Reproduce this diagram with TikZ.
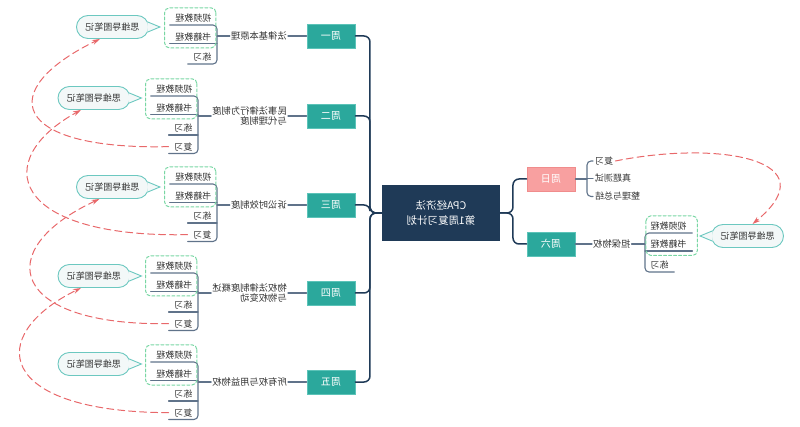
\documentclass[tikz,border=0pt]{standalone}
\usepackage{fontspec}
\setmainfont{Noto Sans CJK SC}
\usepackage{tikz}
\usetikzlibrary{calc}
\usetikzlibrary{arrows.meta}

\definecolor{navy}{HTML}{1F3A57}
\definecolor{teal1}{HTML}{2BA89C}
\definecolor{teal2}{HTML}{5CC3B8}
\definecolor{pink1}{HTML}{F8A0A0}
\definecolor{pink2}{HTML}{F08C8C}
\definecolor{slate}{HTML}{60738A}
\definecolor{ink}{HTML}{333333}
\definecolor{mint}{HTML}{78D6A3}
\definecolor{memoline}{HTML}{6CC8C0}
\definecolor{memofill}{HTML}{F3F8F8}
\definecolor{redash}{HTML}{E8686A}

\tikzset{
  hub/.style={fill=navy, text=white, minimum width=118, minimum height=56,
    align=center, font=\fontsize{10.5}{15}\selectfont},
  weekbox/.style={fill=teal1, draw=teal2, line width=0.8, text=white,
    minimum width=48, minimum height=24, font=\fontsize{10}{12}\selectfont},
  sunbox/.style={weekbox, fill=pink1, draw=pink2},
  topic/.style={text=ink, inner sep=1pt, font=\fontsize{9.3}{10.5}\selectfont},
  leaf/.style={text=ink, inner xsep=5.5pt, inner ysep=2.5pt, font=\fontsize{9}{10}\selectfont},
  sunleaf/.style={text=ink, inner sep=2pt, font=\fontsize{9}{10}\selectfont},
  memo/.style={draw=memoline, fill=memofill, line width=0.9, text=ink,
    rounded corners=11.5, minimum width=72, minimum height=23,
    font=\fontsize{9}{10}\selectfont},
  trunk/.style={draw=navy, line width=1.5, rounded corners=6},
  branch/.style={draw=slate, line width=1.1},
  dashbox/.style={draw=mint, line width=1, dash pattern=on 3pt off 2pt, rounded corners=5},
  revise/.style={draw=redash, line width=1, dash pattern=on 7pt off 4pt,
    -{Stealth[length=8pt,width=5pt]}}
}

\begin{document}
\begin{tikzpicture}[x=1pt, y=-1pt, xscale=-1, line cap=round,
  every node/.append style={transform shape}]
\useasboundingbox (0,0) rectangle (800,427);

\node[hub] (hub) at (359,213) {CPA经济法\\第1周复习计划};

\node[weekbox] (w1) at (469,36) {周一};
\node[weekbox] (w2) at (469,116) {周二};
\node[weekbox] (w3) at (469,205) {周三};
\node[weekbox] (w4) at (469,293) {周四};
\node[weekbox] (w5) at (469,382) {周五};
\node[weekbox] (w6) at (249,244) {周六};
\node[sunbox] (w7) at (249,179) {周日};

\draw[trunk] (hub.east) -- (430,213) |- (w1.west);
\draw[trunk] (hub.east) -- (430,213) |- (w2.west);
\draw[trunk] (hub.east) -- (430,213) |- (w3.west);
\draw[trunk] (hub.east) -- (430,213) |- (w4.west);
\draw[trunk] (hub.east) -- (430,213) |- (w5.west);
\draw[trunk] (hub.west) -- (287,213) |- (w6.east);
\draw[trunk] (hub.west) -- (287,213) |- (w7.east);

% topics
\node[topic, anchor=west] (t1) at (512,36) {法律基本原理};
\node[topic, anchor=west, align=left] (t2) at (512,116) {民事法律行为制度\\与代理制度};
\node[topic, anchor=west] (t3) at (512,205) {诉讼时效制度};
\node[topic, anchor=west, align=left] (t4) at (512,293) {物权法律制度概述\\与物权变动};
\node[topic, anchor=west] (t5) at (512,382) {所有权与用益物权};
\node[topic, anchor=east] (t6) at (208,244) {担保物权};

\draw[branch] (w1.east) -- (t1.west);
\draw[branch] (w2.east) -- (t2.west);
\draw[branch] (w3.east) -- (t3.west);
\draw[branch] (w4.east) -- (t4.west);
\draw[branch] (w5.east) -- (t5.west);
\draw[branch] (w6.west) -- (t6.east);

% week 1
\node[leaf, anchor=south west] (v1) at (583,25) {视频教程};
\node[leaf, anchor=south west] (k1) at (583,43.5) {书籍教程};
\node[leaf, anchor=south west] (p1) at (583,64) {练习};
\draw[branch, rounded corners=4] (v1.south east) -- (v1.south west) -- (p1.south west) -- (p1.south east);
\draw[branch] (k1.south west) -- (k1.south east);
\draw[branch] (t1.east) -- (583,36);
\draw[dashbox] ($(v1.north west)+(1,-3.5)$) rectangle ($(k1.south east)+(5,4.5)$);
\node[memo] (n1) at (687.5,27) {思维导图笔记};
\fill[memofill] ($(n1.west)+(1.6,-5)$) -- ($(n1.west)+(-11,0)$) -- ($(n1.west)+(1.6,5)$) -- cycle;
\draw[memoline, line width=0.9] ($(n1.west)+(1.1,-5)$) -- ($(n1.west)+(-11,0)$) -- ($(n1.west)+(1.1,5)$);

% week 2
\node[leaf, anchor=south west] (v2) at (602,96) {视频教程};
\node[leaf, anchor=south west] (k2) at (602,114.5) {书籍教程};
\node[leaf, anchor=south west] (p2) at (602,135) {练习};
\node[leaf, anchor=south west] (r2) at (602,153.5) {复习};
\draw[branch, rounded corners=4] (v2.south east) -- (v2.south west) -- (r2.south west) -- (r2.south east);
\draw[branch] (k2.south west) -- (k2.south east);
\draw[branch] (p2.south west) -- (p2.south east);
\draw[branch] (t2.east) -- (602,116);
\draw[dashbox] ($(v2.north west)+(1,-3.5)$) rectangle ($(k2.south east)+(5,4.5)$);
\node[memo] (n2) at (706,98) {思维导图笔记};
\fill[memofill] ($(n2.west)+(1.6,-5)$) -- ($(n2.west)+(-11,0)$) -- ($(n2.west)+(1.6,5)$) -- cycle;
\draw[memoline, line width=0.9] ($(n2.west)+(1.1,-5)$) -- ($(n2.west)+(-11,0)$) -- ($(n2.west)+(1.1,5)$);

% week 3
\node[leaf, anchor=south west] (v3) at (583,184) {视频教程};
\node[leaf, anchor=south west] (k3) at (583,202.5) {书籍教程};
\node[leaf, anchor=south west] (p3) at (583,223) {练习};
\node[leaf, anchor=south west] (r3) at (583,241.5) {复习};
\draw[branch, rounded corners=4] (v3.south east) -- (v3.south west) -- (r3.south west) -- (r3.south east);
\draw[branch] (k3.south west) -- (k3.south east);
\draw[branch] (p3.south west) -- (p3.south east);
\draw[branch] (t3.east) -- (583,205);
\draw[dashbox] ($(v3.north west)+(1,-3.5)$) rectangle ($(k3.south east)+(5,4.5)$);
\node[memo] (n3) at (687.5,187) {思维导图笔记};
\fill[memofill] ($(n3.west)+(1.6,-5)$) -- ($(n3.west)+(-11,0)$) -- ($(n3.west)+(1.6,5)$) -- cycle;
\draw[memoline, line width=0.9] ($(n3.west)+(1.1,-5)$) -- ($(n3.west)+(-11,0)$) -- ($(n3.west)+(1.1,5)$);

% week 4
\node[leaf, anchor=south west] (v4) at (602,273) {视频教程};
\node[leaf, anchor=south west] (k4) at (602,291.5) {书籍教程};
\node[leaf, anchor=south west] (p4) at (602,312) {练习};
\node[leaf, anchor=south west] (r4) at (602,330.5) {复习};
\draw[branch, rounded corners=4] (v4.south east) -- (v4.south west) -- (r4.south west) -- (r4.south east);
\draw[branch] (k4.south west) -- (k4.south east);
\draw[branch] (p4.south west) -- (p4.south east);
\draw[branch] (t4.east) -- (602,293);
\draw[dashbox] ($(v4.north west)+(1,-3.5)$) rectangle ($(k4.south east)+(5,4.5)$);
\node[memo] (n4) at (706,276) {思维导图笔记};
\fill[memofill] ($(n4.west)+(1.6,-5)$) -- ($(n4.west)+(-11,0)$) -- ($(n4.west)+(1.6,5)$) -- cycle;
\draw[memoline, line width=0.9] ($(n4.west)+(1.1,-5)$) -- ($(n4.west)+(-11,0)$) -- ($(n4.west)+(1.1,5)$);

% week 5
\node[leaf, anchor=south west] (v5) at (602,362) {视频教程};
\node[leaf, anchor=south west] (k5) at (602,380.5) {书籍教程};
\node[leaf, anchor=south west] (p5) at (602,401) {练习};
\node[leaf, anchor=south west] (r5) at (602,419.5) {复习};
\draw[branch, rounded corners=4] (v5.south east) -- (v5.south west) -- (r5.south west) -- (r5.south east);
\draw[branch] (k5.south west) -- (k5.south east);
\draw[branch] (p5.south west) -- (p5.south east);
\draw[branch] (t5.east) -- (602,382);
\draw[dashbox] ($(v5.north west)+(1,-3.5)$) rectangle ($(k5.south east)+(5,4.5)$);
\node[memo] (n5) at (706,364) {思维导图笔记};
\fill[memofill] ($(n5.west)+(1.6,-5)$) -- ($(n5.west)+(-11,0)$) -- ($(n5.west)+(1.6,5)$) -- cycle;
\draw[memoline, line width=0.9] ($(n5.west)+(1.1,-5)$) -- ($(n5.west)+(-11,0)$) -- ($(n5.west)+(1.1,5)$);

% week 6
\node[leaf, anchor=south east] (v6) at (155,233) {视频教程};
\node[leaf, anchor=south east] (k6) at (155,251) {书籍教程};
\node[leaf, anchor=south east] (p6) at (155,272) {练习};
\draw[branch, rounded corners=4] (v6.south west) -- (v6.south east) -- (p6.south east) -- (p6.south west);
\draw[branch] (k6.south east) -- (k6.south west);
\draw[branch] (t6.west) -- (155,244);
\draw[dashbox] ($(v6.north east)+(-1,-3.5)$) rectangle ($(k6.south west)+(-5,4.5)$);
\node[memo] (n6) at (52.5,236) {思维导图笔记};
\fill[memofill] ($(n6.east)+(-1.6,-5)$) -- ($(n6.east)+(11,0)$) -- ($(n6.east)+(-1.6,5)$) -- cycle;
\draw[memoline, line width=0.9] ($(n6.east)+(-1.1,-5)$) -- ($(n6.east)+(11,0)$) -- ($(n6.east)+(-1.1,5)$);

% week 7
\node[sunleaf, anchor=east] (s1) at (207,161) {复习};
\node[sunleaf, anchor=east] (s2) at (207,178.5) {真题测试};
\node[sunleaf, anchor=east] (s3) at (207,196.5) {整理与总结};
\draw[branch] (w7.west) -- (213,179);
\draw[branch, rounded corners=4] (s1.east) -- (213,161) -- (213,196.5) -- (s3.east);
\draw[branch] (213,178.5) -- (s2.east);

% review links
\draw[revise] (r2.east) .. controls (790,150) and (805,90) .. ($(n1.south)+(12.5,0)$);
\draw[revise] (r3.east) .. controls (790,238) and (810,160) .. ($(n2.south)+(13,0)$);
\draw[revise] (r4.east) .. controls (790,326) and (810,250) .. ($(n3.south)+(13,0)$);
\draw[revise] (r5.east) .. controls (805,412) and (815,335) .. ($(n4.south)+(13,0)$);
\draw[revise] (s1.west) .. controls (80,140) and (-30,160) .. ($(n6.north)+(-5,0)$);

\end{tikzpicture}
\end{document}
